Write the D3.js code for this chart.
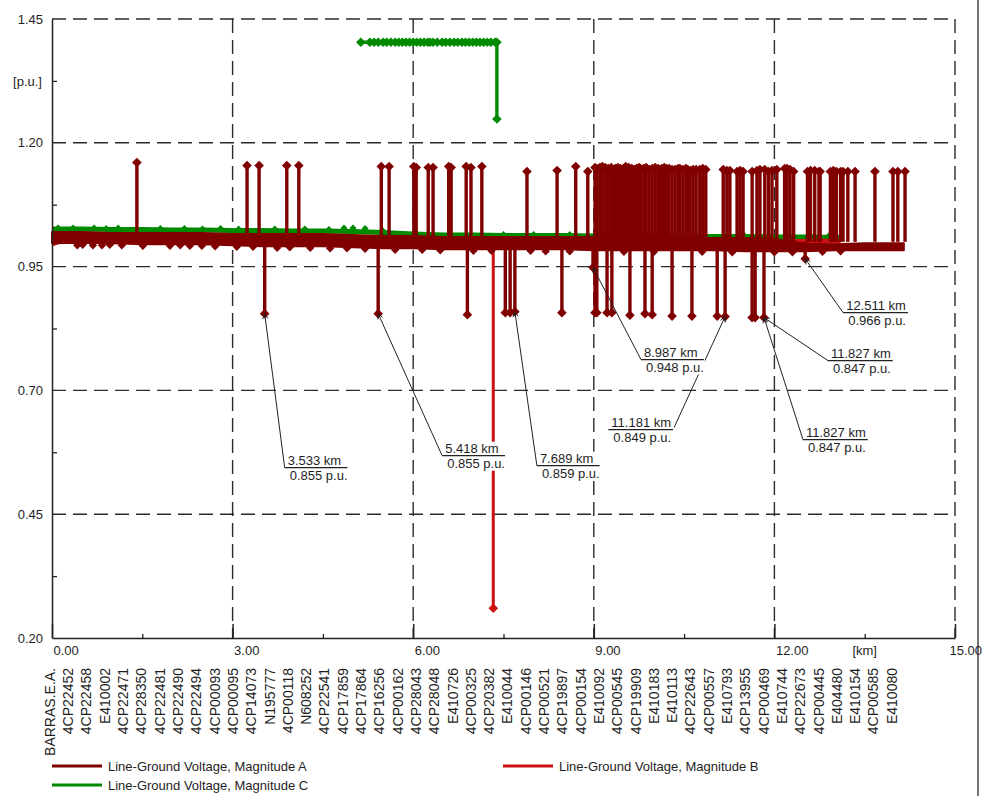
<!DOCTYPE html>
<html><head><meta charset="utf-8">
<script src="https://cdn.jsdelivr.net/npm/d3@7"></script>
<style>
body{margin:0;background:#fff;}
text{font-family:Arial,"Liberation Sans",sans-serif;fill:#1e1e1e;}
</style></head><body>
<svg id="c" width="985" height="796"></svg>
<script>
// ---------------- DATA ----------------
const yTicks = [0.20, 0.45, 0.70, 0.95, 1.20, 1.45];
const yTickLabels = ["0.20", "0.45", "0.70", "0.95", "1.20", "1.45"];
const yMinor = [0.325, 0.575, 0.825, 1.075, 1.325];
const xTicks = [0, 3, 6, 9, 12, 15];
const xTickLabels = ["0.00", "3.00", "6.00", "9.00", "12.00", "15.00"];
const xMinor = [1.5, 4.5, 7.5, 10.5, 13.5];
const yUnit = "[p.u.]";
const xUnit = "[km]";

const nodeNames = ["BARRAS.E.A.", "4CP22452", "4CP22458", "E410002", "4CP22471", "4CP28350", "4CP22481",
  "4CP22490", "4CP22494", "4CP00093", "4CP00095", "4CP14073", "N195777", "4CP00118", "N608252", "4CP22541",
  "4CP17859", "4CP17864", "4CP16256", "4CP00162", "4CP28043", "4CP28048", "E410726", "4CP00325", "4CP20382",
  "E410044", "4CP00146", "4CP00521", "4CP19897", "4CP00154", "E410092", "4CP00545", "4CP19909", "E410183",
  "E410113", "4CP22643", "4CP00557", "E410793", "4CP13955", "4CP00469", "E410744", "4CP22673", "4CP00445",
  "E404480", "E410154", "4CP00585", "E410080"];

const seriesNames = ["Line-Ground Voltage, Magnitude A", "Line-Ground Voltage, Magnitude B", "Line-Ground Voltage, Magnitude C"];

// Phase A main band (upper and lower envelope of the many overlapping nodes)
const bandKm = [0, 0.5, 1, 1.5, 2, 2.5, 3, 3.5, 4, 4.5, 5, 5.5, 6, 6.5, 7, 7.5, 8, 8.5, 9, 9.5, 10, 10.5, 11, 11.5, 12, 12.5, 13, 13.5, 14, 14.15];
const aUpper = [1.020, 1.020, 1.018, 1.018, 1.018, 1.018, 1.016, 1.016, 1.016, 1.016, 1.014, 1.012, 1.012, 1.010, 1.010,
  1.010, 1.010, 1.010, 1.010, 1.010, 1.008, 1.008, 1.008, 1.008, 1.006, 0.996, 0.995, 0.997, 0.997, 0.997];
const aLower = [0.997, 0.998, 0.997, 0.995, 0.995, 0.995, 0.993, 0.991, 0.991, 0.991, 0.989, 0.987, 0.987, 0.985, 0.985,
  0.985, 0.985, 0.985, 0.983, 0.983, 0.983, 0.983, 0.983, 0.981, 0.981, 0.981, 0.983, 0.983, 0.983, 0.983];
const aBumpKm = [0.42, 0.51, 0.68, 0.83, 0.96, 1.16, 1.51, 1.96, 2.13, 2.29, 2.49, 2.71, 3.07, 3.34, 3.74, 3.95, 4.29, 4.62,
  4.90, 5.20, 5.70, 6.15, 6.45, 7.00, 7.30, 7.95, 8.20, 8.60, 9.50, 10.00, 10.80, 11.30, 12.00, 12.30, 12.80, 13.10];
const aBumpV = [0.993, 0.994, 0.993, 0.993, 0.994, 0.993, 0.992, 0.992, 0.993, 0.992, 0.992, 0.991, 0.990, 0.990, 0.988, 0.989,
  0.988, 0.987, 0.987, 0.986, 0.984, 0.984, 0.983, 0.982, 0.982, 0.982, 0.981, 0.981, 0.980, 0.980, 0.980, 0.979, 0.979,
  0.979, 0.980, 0.981];
const spikeBase = 1.0;
// Phase A over-voltage branches (km, p.u.)
const aSpikeKm = [1.41, 3.24, 3.44, 3.90, 4.10, 5.47, 5.60, 6.01, 6.05, 6.25, 6.33, 6.59, 6.63, 6.88, 6.96, 7.14, 7.89, 8.39,
  8.70, 8.90, 9.02, 9.05, 9.10, 9.14, 9.19, 9.24, 9.29, 9.32, 9.36, 9.40, 9.44, 9.49, 9.53, 9.58, 9.63, 9.67, 9.71, 9.75,
  9.78, 9.83, 9.87, 9.92, 9.97, 10.02, 10.07, 10.10, 10.13, 10.17, 10.21, 10.25, 10.30, 10.35, 10.40, 10.43, 10.48, 10.53,
  10.56, 10.60, 10.65, 10.70, 10.76, 10.81, 10.86, 11.15, 11.21, 11.26, 11.38, 11.43, 11.48, 11.63, 11.71, 11.76, 11.84,
  11.90, 11.96, 12.04, 12.17, 12.21, 12.26, 12.32, 12.55, 12.60, 12.67, 12.74, 12.76, 12.93, 12.98, 13.03, 13.10, 13.14,
  13.22, 13.34, 13.67, 13.97, 14.05, 14.17];
const aSpikeTop = [1.160, 1.154, 1.154, 1.154, 1.154, 1.152, 1.152, 1.152, 1.150, 1.150, 1.150, 1.152, 1.150, 1.152, 1.150,
  1.152, 1.142, 1.144, 1.152, 1.142, 1.150, 1.148, 1.150, 1.152, 1.150, 1.148, 1.150, 1.146, 1.148, 1.150, 1.148, 1.148,
  1.152, 1.150, 1.148, 1.146, 1.148, 1.150, 1.148, 1.148, 1.150, 1.146, 1.148, 1.150, 1.148, 1.146, 1.148, 1.150, 1.148,
  1.148, 1.146, 1.146, 1.148, 1.148, 1.146, 1.148, 1.146, 1.144, 1.146, 1.146, 1.146, 1.148, 1.146, 1.146, 1.144, 1.144,
  1.142, 1.144, 1.142, 1.142, 1.144, 1.146, 1.146, 1.142, 1.144, 1.146, 1.148, 1.148, 1.146, 1.142, 1.142, 1.144, 1.144,
  1.142, 1.142, 1.142, 1.144, 1.142, 1.142, 1.142, 1.142, 1.142, 1.142, 1.142, 1.142, 1.142];
// Phase A under-voltage branches
const aDipKm = [3.533, 5.418, 6.90, 7.53, 7.61, 7.689, 8.47, 8.987, 9.02, 9.05, 9.22, 9.30, 9.60, 9.85, 9.97, 10.30, 10.63,
  11.05, 11.181, 11.63, 11.68, 11.827, 12.511];
const aDipV = [0.855, 0.855, 0.853, 0.857, 0.857, 0.859, 0.857, 0.948, 0.857, 0.857, 0.857, 0.857, 0.852, 0.855, 0.853,
  0.850, 0.850, 0.850, 0.849, 0.847, 0.847, 0.847, 0.966];

// Phase B
const bKm = [0, 0.25, 1, 2, 3, 4, 5, 6, 7, 8, 9, 10, 11, 12, 12.3, 12.6, 13.1];
const bVal = [0.996, 1.006, 1.008, 1.007, 1.005, 1.004, 1.002, 1.000, 0.998, 0.998, 0.997, 0.996, 0.996, 0.996, 1.000, 1.001, 1.001];
const bDipKm = [7.33];
const bDipV = [0.26];

// Phase C
const cKm = [0, 0.5, 1, 1.5, 2, 2.5, 3, 3.5, 4, 4.5, 5, 5.5, 6, 6.5, 7, 7.5, 8, 8.5, 9, 9.5, 10, 10.5, 11, 11.5, 12, 12.5, 13, 13.1];
const cVal = [1.026, 1.026, 1.025, 1.025, 1.024, 1.024, 1.023, 1.023, 1.022, 1.022, 1.021, 1.019, 1.016, 1.014, 1.014, 1.013,
  1.013, 1.013, 1.012, 1.012, 1.012, 1.011, 1.011, 1.011, 1.010, 1.010, 1.009, 1.009];
const cBumpKm = [0.1, 0.35, 0.7, 0.9, 1.1, 1.8, 2.2, 2.5, 2.8, 3.1, 3.7, 4.2, 4.6, 4.85, 5.0, 5.2, 5.5, 7.5, 8.0, 8.6, 9.9, 11.5, 12.2, 12.6, 12.9];
const cBumpV = [1.028, 1.028, 1.028, 1.027, 1.028, 1.027, 1.027, 1.026, 1.027, 1.026, 1.026, 1.026, 1.025, 1.028, 1.028, 1.027,
  1.022, 1.015, 1.015, 1.015, 1.014, 1.013, 1.012, 1.012, 1.012];
// Phase C elevated section
const cHighKm = [5.13, 5.28, 5.35, 5.42, 5.50, 5.56, 5.63, 5.70, 5.76, 5.82, 5.88, 5.94, 6.00, 6.06, 6.12, 6.18, 6.24, 6.28,
  6.33, 6.40, 6.48, 6.54, 6.61, 6.68, 6.74, 6.81, 6.87, 6.93, 6.99, 7.05, 7.11, 7.17, 7.23, 7.29, 7.36, 7.39];
const cHighV = 1.403;
const cDropKm = [7.39];
const cDropV = [1.248];

// Annotations (node km, p.u.)
const annKm = [3.533, 5.418, 7.689, 8.987, 11.181, 12.511, 11.827, 11.827];
const annVal = [0.855, 0.855, 0.859, 0.948, 0.849, 0.966, 0.847, 0.847];
const annKmText = ["3.533 km", "5.418 km", "7.689 km", "8.987 km", "11.181 km", "12.511 km", "11.827 km", "11.827 km"];
const annPuText = ["0.855 p.u.", "0.855 p.u.", "0.859 p.u.", "0.948 p.u.", "0.849 p.u.", "0.966 p.u.", "0.847 p.u.", "0.847 p.u."];

// ---------------- LAYOUT ----------------
const annOffset = [[20, 154], [64, 142], [22, 154], [48, 92], [-52, 113], [38, 54], [64, 43], [39, 122]];
const annAttachRight = [false, false, false, false, true, false, false, false];
const colA = "#800000", colB = "#cc1111", colC = "#008a00";

const x = d3.scaleLinear().domain([0, 15]).range([52, 955]);
const y = d3.scaleLinear().domain([0.20, 1.45]).range([638, 19]);
const svg = d3.select("#c");

const defs = svg.append("defs");
defs.append("marker").attr("id", "arr").attr("viewBox", "0 0 8 8").attr("refX", 7).attr("refY", 4)
  .attr("markerWidth", 7).attr("markerHeight", 7).attr("markerUnits", "userSpaceOnUse").attr("orient", "auto")
  .append("path").attr("d", "M1,1 L7,4 L1,7").attr("fill", "none").attr("stroke", "#222").attr("stroke-width", 1);

// window frame line
svg.append("line").attr("x1", 978).attr("x2", 978).attr("y1", 0).attr("y2", 796).attr("stroke", "#444").attr("stroke-width", 1.5);

// grid
const grid = svg.append("g").attr("stroke", "#2b2b2b").attr("stroke-width", 1.4).attr("stroke-dasharray", "14,7");
grid.selectAll(".gx").data(xTicks.filter(d => d > 0)).join("line")
  .attr("x1", d => x(d)).attr("x2", d => x(d)).attr("y1", y(1.45)).attr("y2", y(0.20));
grid.selectAll(".gy").data(yTicks.filter(d => d > 0.2)).join("line")
  .attr("x1", x(0)).attr("x2", x(15)).attr("y1", d => y(d)).attr("y2", d => y(d));

const diamond = (px, py, r) => `M${px},${py - r}L${px + r},${py}L${px},${py + r}L${px - r},${py}Z`;
const R = 4.8;
const SW = 3.4;

// ---- Phase C ----
const gC = svg.append("g");
gC.append("path").datum(cKm.map((k, i) => [k, cVal[i]]))
  .attr("d", d3.line().x(d => x(d[0])).y(d => y(d[1]))).attr("fill", "none").attr("stroke", colC).attr("stroke-width", 5);
gC.selectAll(".cb").data(cBumpKm).join("path").attr("d", (k, i) => diamond(x(k), y(cBumpV[i]), 3.5)).attr("fill", colC);
gC.append("line").attr("x1", x(cHighKm[0])).attr("x2", x(cHighKm[cHighKm.length - 1]))
  .attr("y1", y(cHighV)).attr("y2", y(cHighV)).attr("stroke", colC).attr("stroke-width", SW);
gC.selectAll(".cd").data(cDropKm).join("line").attr("x1", d => x(d)).attr("x2", d => x(d))
  .attr("y1", y(cHighV)).attr("y2", (d, i) => y(cDropV[i])).attr("stroke", colC).attr("stroke-width", SW);
gC.selectAll(".ch").data(cHighKm).join("path").attr("d", k => diamond(x(k), y(cHighV), R)).attr("fill", colC);
gC.selectAll(".cdm").data(cDropKm).join("path").attr("d", (k, i) => diamond(x(k), y(cDropV[i]), R)).attr("fill", colC);

// ---- Phase B ----
const gB = svg.append("g");
gB.append("path").datum(bKm.map((k, i) => [k, bVal[i]]))
  .attr("d", d3.line().x(d => x(d[0])).y(d => y(d[1]))).attr("fill", "none").attr("stroke", colB).attr("stroke-width", 5);
gB.selectAll(".bd").data(bDipKm).join("line").attr("x1", d => x(d)).attr("x2", d => x(d))
  .attr("y1", y(spikeBase)).attr("y2", (d, i) => y(bDipV[i])).attr("stroke", colB).attr("stroke-width", 3);
gB.selectAll(".bdm").data(bDipKm).join("path").attr("d", (k, i) => diamond(x(k), y(bDipV[i]), R)).attr("fill", colB);

// ---- Phase A ----
const gA = svg.append("g");
const band = bandKm.map((k, i) => ({k, u: aUpper[i], l: aLower[i]}));
gA.append("path").datum(band)
  .attr("d", d3.area().x(d => x(d.k)).y0(d => y(d.l)).y1(d => y(d.u)))
  .attr("fill", colA).attr("stroke", colA).attr("stroke-width", 2).attr("stroke-linejoin", "round");
gA.selectAll(".ab").data(aBumpKm).join("path").attr("d", (k, i) => diamond(x(k), y(aBumpV[i]), 4.2)).attr("fill", colA);
gA.selectAll(".as").data(aSpikeKm).join("line").attr("x1", d => x(d)).attr("x2", d => x(d))
  .attr("y1", y(spikeBase)).attr("y2", (d, i) => y(aSpikeTop[i])).attr("stroke", colA).attr("stroke-width", SW);
gA.selectAll(".asm").data(aSpikeKm).join("path").attr("d", (k, i) => diamond(x(k), y(aSpikeTop[i]), R)).attr("fill", colA);
gA.selectAll(".ad").data(aDipKm).join("line").attr("x1", d => x(d)).attr("x2", d => x(d))
  .attr("y1", y(spikeBase)).attr("y2", (d, i) => y(aDipV[i])).attr("stroke", colA).attr("stroke-width", SW);
gA.selectAll(".adm").data(aDipKm).join("path").attr("d", (k, i) => diamond(x(k), y(aDipV[i]), R)).attr("fill", colA);

// ---- Axes ----
const axisCol = "#222";
const yAx = svg.append("g").attr("transform", `translate(${x(0)},0)`)
  .call(d3.axisLeft(y).tickValues(yTicks).tickSize(0).tickSizeOuter(0).tickPadding(9)
    .tickFormat((d, i) => yTickLabels[i]));
yAx.select(".domain").attr("stroke", axisCol).attr("stroke-width", 1.5);
yAx.selectAll("text").attr("font-size", 13).attr("fill", "#1e1e1e").attr("font-family", "Arial, 'Liberation Sans', sans-serif");
const yMin = svg.append("g").attr("transform", `translate(${x(0)},0)`)
  .call(d3.axisLeft(y).tickValues(yMinor).tickSize(-5).tickSizeOuter(0).tickFormat(""));
yMin.select(".domain").remove();
yMin.selectAll("line").attr("stroke", axisCol).attr("stroke-width", 1.3);

const xAx = svg.append("g").attr("transform", `translate(0,${y(0.20)})`)
  .call(d3.axisBottom(x).tickValues(xTicks).tickSize(-14).tickSizeOuter(0).tickPadding(20)
    .tickFormat((d, i) => xTickLabels[i]));
xAx.select(".domain").attr("stroke", axisCol).attr("stroke-width", 1.5);
xAx.selectAll("line").attr("stroke", axisCol).attr("stroke-width", 1.5);
xAx.selectAll("text").attr("font-size", 13).attr("fill", "#1e1e1e").attr("text-anchor", "start").attr("dy", "0")
  .attr("y", 17).attr("dx", (d, i) => i === xTicks.length - 1 ? -6 : 1)
  .attr("font-family", "Arial, 'Liberation Sans', sans-serif");
const xMin = svg.append("g").attr("transform", `translate(0,${y(0.20)})`)
  .call(d3.axisBottom(x).tickValues(xMinor).tickSize(-4).tickSizeOuter(0).tickFormat(""));
xMin.select(".domain").remove();
xMin.selectAll("line").attr("stroke", axisCol).attr("stroke-width", 1.3);

svg.append("text").attr("x", x(0) - 10).attr("y", y(1.325) + 5).attr("text-anchor", "end").attr("font-size", 13).text(yUnit);
svg.append("text").attr("x", x(13.5)).attr("y", y(0.20) + 17).attr("text-anchor", "middle").attr("font-size", 13).text(xUnit);

// node name labels
const nx = d3.scalePoint().domain(nodeNames).range([x(-0.035), x(13.95)]);
svg.append("g").selectAll("text").data(nodeNames).join("text")
  .attr("transform", d => `translate(${nx(d) + 5},668) rotate(-90)`)
  .attr("text-anchor", "end").attr("font-size", 14).text(d => d);

// ---- Annotations ----
const gLead = svg.append("g");
const gLab = svg.append("g");
annKm.forEach((k, i) => {
  const px = x(k), py = y(annVal[i]);
  const ax = px + annOffset[i][0], ay = py + annOffset[i][1];
  const g = gLab.append("g");
  const bg = g.append("rect").attr("fill", "#fff");
  const t1 = g.append("text").attr("font-size", 13).attr("y", ay - 3).text(annKmText[i]);
  const t2 = g.append("text").attr("font-size", 13).attr("y", ay + 12).text(annPuText[i]);
  const w = Math.max(t1.node().getComputedTextLength(), t2.node().getComputedTextLength()) + 5;
  const left = annAttachRight[i] ? ax - w : ax;
  t1.attr("x", left + 3);
  t2.attr("x", left + 5);
  bg.attr("x", left + 1).attr("y", ay - 14).attr("width", w).attr("height", 29);
  g.append("line").attr("x1", left).attr("x2", left + w).attr("y1", ay).attr("y2", ay).attr("stroke", "#222").attr("stroke-width", 1.2);
  gLead.append("line").attr("x1", ax).attr("y1", ay).attr("x2", px).attr("y2", py)
    .attr("stroke", "#222").attr("stroke-width", 1).attr("marker-end", "url(#arr)");
});

// ---- Legend ----
const leg = svg.append("g");
const legPos = [[52, 766], [503, 766], [52, 785]];
const legCol = [colA, colB, colC];
seriesNames.forEach((n, i) => {
  leg.append("line").attr("x1", legPos[i][0]).attr("x2", legPos[i][0] + 50).attr("y1", legPos[i][1]).attr("y2", legPos[i][1])
    .attr("stroke", legCol[i]).attr("stroke-width", 3);
  leg.append("text").attr("x", legPos[i][0] + 56).attr("y", legPos[i][1] + 5).attr("font-size", 13).text(n);
});
</script>
</body></html>
